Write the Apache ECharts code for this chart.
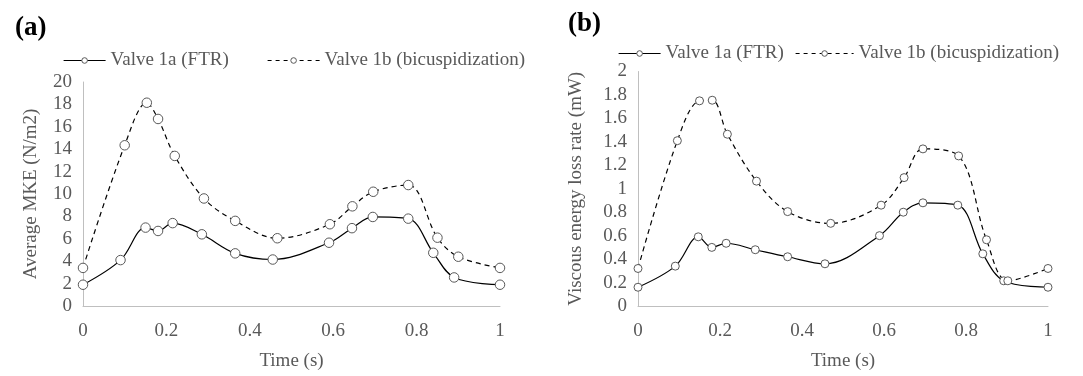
<!DOCTYPE html>
<html>
<head>
    <meta charset="utf-8">
    <title>MKE and viscous energy loss</title>
    <script src="https://cdn.jsdelivr.net/npm/echarts@6/dist/echarts.min.js"></script>
</head>
<body style="margin:0;background:#fff;">
    <div id="main" style="width:1083px;height:376px;"></div>
    <script type="text/javascript">
        // (a) Average MKE, Valve 1a / Valve 1b
        var timeA1 = [0, 0.09, 0.15, 0.18, 0.215, 0.285, 0.365, 0.455, 0.59, 0.645, 0.695, 0.78, 0.84, 0.89, 1];
        var mkeA1 = [1.9, 4.1, 7.0, 6.7, 7.4, 6.4, 4.7, 4.15, 5.65, 6.95, 7.95, 7.8, 4.75, 2.55, 1.9];
        var timeA2 = [0, 0.1, 0.153, 0.18, 0.22, 0.29, 0.365, 0.466, 0.592, 0.646, 0.696, 0.78, 0.85, 0.9, 1];
        var mkeA2 = [3.4, 14.35, 18.15, 16.7, 13.4, 9.6, 7.6, 6.05, 7.3, 8.9, 10.2, 10.8, 6.1, 4.4, 3.4];

        // (b) Viscous energy loss rate
        var timeB1 = [0, 0.091, 0.147, 0.18, 0.215, 0.286, 0.365, 0.456, 0.589, 0.647, 0.695, 0.78, 0.841, 0.892, 1];
        var lossB1 = [0.16, 0.34, 0.59, 0.50, 0.535, 0.48, 0.42, 0.36, 0.60, 0.80, 0.88, 0.86, 0.445, 0.215, 0.16];
        var timeB2 = [0, 0.096, 0.15, 0.181, 0.218, 0.289, 0.365, 0.47, 0.593, 0.649, 0.695, 0.782, 0.85, 0.902, 1];
        var lossB2 = [0.32, 1.41, 1.75, 1.755, 1.465, 1.065, 0.805, 0.705, 0.86, 1.095, 1.34, 1.28, 0.565, 0.215, 0.32];

        var nameA = 'Valve 1a (FTR)';
        var nameB = 'Valve 1b (bicuspidization)';

        function pairs(xs, ys) {
            return xs.map(function (x, i) { return [x, ys[i]]; });
        }

        var font = 'Liberation Serif';
        var grey = '#595959';

        function xAxis(idx) {
            return {
                type: 'value', gridIndex: idx, min: 0, max: 1, interval: 0.2,
                name: 'Time (s)', nameLocation: 'middle', nameGap: 46,
                nameTextStyle: { fontFamily: font, fontSize: 19, color: grey },
                axisLine: { lineStyle: { color: '#bfbfbf' } },
                axisTick: { show: false },
                splitLine: { show: false },
                axisLabel: { fontFamily: font, fontSize: 19, color: grey, margin: 16 }
            };
        }
        function yAxis(idx, max, step, title, gap) {
            return {
                type: 'value', gridIndex: idx, min: 0, max: max, interval: step,
                name: title, nameLocation: 'middle', nameGap: gap,
                nameTextStyle: { fontFamily: font, fontSize: 19, color: grey },
                axisLine: { show: true, lineStyle: { color: '#bfbfbf' } },
                axisTick: { show: false },
                splitLine: { show: false },
                axisLabel: { fontFamily: font, fontSize: 19, color: grey, margin: 11 }
            };
        }
        function series(name, idx, data, dashed, size) {
            return {
                name: name, type: 'line', xAxisIndex: idx, yAxisIndex: idx,
                data: data, smooth: 0.35,
                symbol: 'circle', symbolSize: size,
                lineStyle: { color: '#000', width: 1.2, type: dashed ? [5, 4] : 'solid' },
                itemStyle: { color: '#fff', borderColor: grey, borderWidth: 1 }
            };
        }
        function legend(item, left, top, w, dashed) {
            return {
                data: [item], left: left, top: top, itemWidth: w, itemHeight: 7,
                textStyle: { fontFamily: font, fontSize: 19, color: grey },
                itemStyle: { color: '#fff', borderColor: grey, borderWidth: 1 },
                lineStyle: { color: '#000', width: 1.2, type: dashed ? [4, 4] : 'solid' }
            };
        }

        var myChart = echarts.init(document.getElementById('main'));
        var option = {
            animation: false,
            backgroundColor: '#fff',
            title: [
                { text: '(a)', left: 10, top: 10, textStyle: { fontFamily: font, fontSize: 27, fontWeight: 'bold', color: '#000' } },
                { text: '(b)', left: 563, top: 6, textStyle: { fontFamily: font, fontSize: 27, fontWeight: 'bold', color: '#000' } }
            ],
            legend: [
                legend(nameA, 58, 46, 42, false),
                legend(nameB, 262, 46, 52, true),
                legend(nameA, 613, 39, 42, false),
                legend(nameB, 790, 39, 58, true)
            ],
            grid: [
                { left: 83, top: 82, width: 417, height: 235 },
                { left: 638, top: 71.5, width: 410, height: 240 }
            ],
            xAxis: [xAxis(0), xAxis(1)],
            yAxis: [
                yAxis(0, 20, 2, 'Average MKE (N/m2)', 42),
                yAxis(1, 2, 0.2, 'Viscous energy loss rate (mW)', 52)
            ],
            series: [
                series(nameA, 0, pairs(timeA1, mkeA1), false, 9.5),
                series(nameB, 0, pairs(timeA2, mkeA2), true, 9.5),
                series(nameA, 1, pairs(timeB1, lossB1), false, 8),
                series(nameB, 1, pairs(timeB2, lossB2), true, 8)
            ]
        };
        myChart.setOption(option);
    </script>
</body>
</html>
